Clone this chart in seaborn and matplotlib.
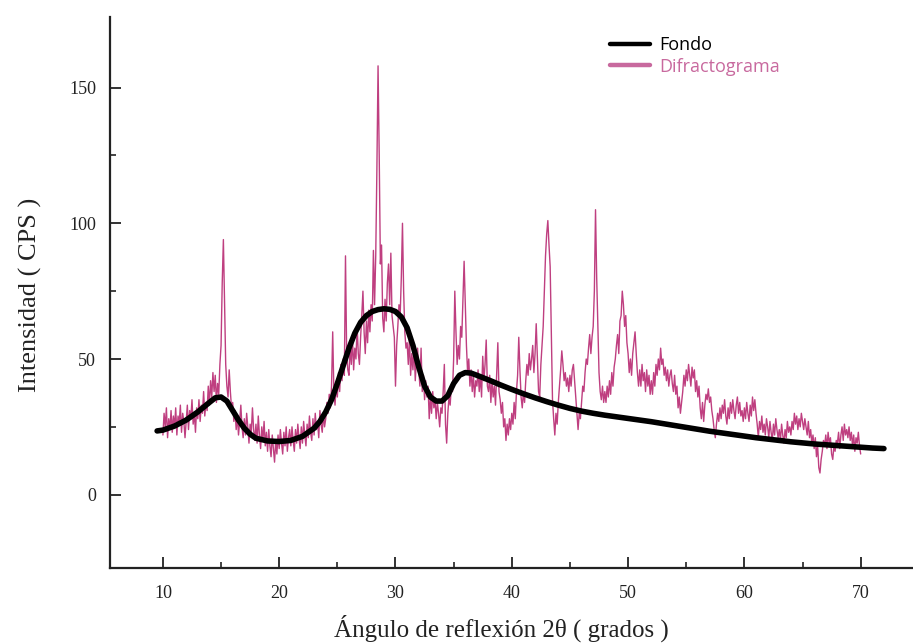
import numpy as np
import pandas as pd
import matplotlib
matplotlib.use("Agg")
import matplotlib.pyplot as plt
from matplotlib.lines import Line2D
from matplotlib.ticker import FixedLocator
import seaborn as sns

# ---------------- data ----------------
angle_start = 10.0
angle_step = 0.1
diffractogram = [
    22, 30, 25, 32, 21, 28, 24, 31, 23, 29,      # 10
    25, 32, 22, 29, 26, 33, 23, 30, 27, 21,      # 11
    27, 33, 24, 31, 28, 35, 26, 30, 23, 32,      # 12
    28, 35, 27, 33, 30, 38, 29, 34, 31, 40,      # 13
    33, 42, 36, 45, 38, 44, 34, 41, 37, 48,      # 14
    55, 78, 94, 72, 48, 40, 36, 46, 38, 32,      # 15
    34, 27, 31, 24, 29, 22, 27, 33, 25, 21,      # 16
    28, 22, 30, 25, 19, 26, 23, 32, 24, 20,      # 17
    26, 19, 29, 22, 17, 25, 20, 27, 18, 23,      # 18
    16, 24, 18, 14, 22, 17, 12, 20, 15, 22,      # 19
    17, 24, 19, 15, 23, 18, 25, 16, 21, 24,      # 20
    18, 25, 20, 16, 24, 19, 26, 21, 17, 25,      # 21
    19, 27, 22, 18, 26, 21, 29, 23, 20, 28,      # 22
    22, 30, 24, 27, 21, 31, 26, 23, 30, 25,      # 23
    28, 34, 30, 37, 32, 40, 60, 38, 33, 40,      # 24
    36, 45, 38, 48, 42, 50, 44, 88, 52, 46,      # 25
    44, 55, 48, 58, 46, 54, 50, 62, 52, 48,      # 26
    58, 66, 75, 60, 52, 64, 56, 68, 60, 70,      # 27
    64, 90, 70, 88, 120, 158, 125, 85, 92, 65,   # 28
    60, 72, 64, 78, 85, 70, 89, 66, 62, 58,      # 29
    40, 55, 62, 70, 66, 80, 100, 75, 60, 54,     # 30
    56, 48, 58, 44, 52, 46, 55, 42, 50, 54,      # 31
    46, 40, 54, 38, 44, 35, 42, 36, 40, 28,      # 32
    36, 30, 38, 32, 35, 28, 34, 30, 25, 32,      # 33
    30, 38, 48, 26, 19, 30, 36, 33, 40, 38,      # 34
    50, 75, 60, 48, 55, 50, 62, 58, 72, 86,      # 35
    70, 55, 45, 50, 40, 46, 38, 44, 36, 42,      # 36
    40, 46, 38, 44, 36, 51, 42, 48, 57, 40,      # 37
    38, 44, 34, 42, 36, 40, 33, 45, 56, 38,      # 38
    35, 30, 34, 25, 28, 20, 26, 22, 28, 24,      # 39
    30, 26, 34, 28, 38, 44, 58, 46, 36, 32,      # 40
    38, 34, 42, 48, 44, 52, 46, 50, 55, 45,      # 41
    52, 63, 50, 38, 36, 48, 55, 62, 75, 88,      # 42
    96, 101, 92, 84, 60, 35, 28, 22, 30, 26,     # 43
    34, 40, 46, 53, 48, 42, 45, 40, 43, 38,      # 44
    44, 40, 46, 48, 42, 36, 30, 24, 30, 28,      # 45
    34, 40, 38, 45, 50, 48, 54, 59, 52, 58,      # 46
    62, 75, 105, 80, 62, 45, 38, 35, 40, 34,     # 47
    38, 34, 40, 36, 42, 37, 45, 40, 47, 50,      # 48
    55, 59, 52, 64, 66, 75, 70, 62, 66, 56,      # 49
    52, 45, 50, 44, 52, 56, 60, 52, 45, 40,      # 50
    46, 40, 48, 42, 45, 38, 46, 40, 44, 37,      # 51
    42, 37, 45, 40, 48, 44, 50, 46, 54, 48,      # 52
    50, 44, 47, 42, 46, 40, 44, 46, 41, 38,      # 53
    44, 37, 40, 32, 36, 30, 34, 38, 44, 40,      # 54
    46, 42, 48, 44, 40, 47, 43, 46, 38, 42,      # 55
    36, 40, 32, 28, 34, 27, 33, 37, 35, 39,      # 56
    34, 36, 31, 28, 24, 21, 26, 30, 27, 32,      # 57
    28, 33, 30, 35, 29, 26, 32, 28, 34, 30,      # 58
    35, 31, 28, 33, 36, 30, 34, 29, 31, 27,      # 59
    32, 28, 34, 30, 27, 33, 29, 36, 31, 35,      # 60
    30, 26, 21, 27, 24, 29, 23, 26, 22, 28,      # 61
    25, 21, 27, 23, 20, 26, 22, 28, 24, 21,      # 62
    24, 20, 26, 22, 19, 24, 21, 27, 23, 25,      # 63
    22, 27, 24, 30, 26, 29, 24, 28, 25, 30,      # 64
    27, 24, 28, 25, 22, 27, 21, 24, 19, 22,      # 65
    17, 21, 14, 18, 10, 8, 13, 16, 20, 18,       # 66
    22, 17, 23, 19, 21, 15, 13, 18, 16, 20,      # 67
    19, 23, 17, 22, 25, 20, 26, 22, 24, 21,      # 68
    25, 20, 23, 18, 22, 16, 21, 19, 23, 18,      # 69
    15,                                          # 70.0
]

background_x = [9.5, 10, 11, 12, 13, 14, 14.5, 15, 15.5, 16, 16.5, 17, 17.5, 18, 19, 20,
                21, 22, 23, 23.5, 24, 24.5, 25, 25.5, 26, 26.5, 27, 27.5, 28, 28.5, 29,
                29.5, 30, 30.5, 31, 31.5, 32, 32.5, 33, 33.5, 34, 34.5, 35, 35.5, 36,
                36.5, 37, 38, 39, 40, 41, 42, 43, 44, 45, 46, 47, 48, 49, 50, 51, 52,
                53, 54, 55, 56, 57, 58, 59, 60, 61, 62, 63, 64, 65, 66, 67, 68, 69, 70,
                71, 72]
background_y = [23.5, 23.8, 25.3, 27.5, 30.5, 34, 35.7, 36, 34.5, 31, 27.5, 24.5, 22.3,
                20.8, 19.8, 19.6, 20, 21.5, 24.5, 27, 30.5, 35, 41, 47.5, 54, 59.5, 63.5,
                66, 67.5, 68.2, 68.5, 68.3, 67.5, 65.5, 61.5, 55, 47, 40, 36, 34.5, 34.5,
                36.5, 41, 44, 45, 44.8, 44, 42.3, 40.5, 38.8, 37.2, 35.7, 34.3, 33, 31.8,
                30.8, 30, 29.3, 28.7, 28.1, 27.5, 26.9, 26.2, 25.5, 24.8, 24.1, 23.4, 22.8,
                22.2, 21.6, 21, 20.5, 20, 19.5, 19.1, 18.7, 18.4, 18.1, 17.8, 17.5, 17.2, 17]

x_major_ticks = [10, 20, 30, 40, 50, 60, 70]
x_minor_ticks = [15, 25, 35, 45, 55, 65]
y_major_ticks = [0, 50, 100, 150]
y_minor_ticks = [25, 75, 125]

series_names = ["Fondo", "Difractograma"]
x_label = "Ángulo de reflexión 2θ ( grados )"
y_label = "Intensidad ( CPS )"

# ---------------- plot ----------------
sns.set_theme(style="ticks")
plt.rcParams['font.family'] = ['Liberation Serif', 'DejaVu Serif']

angles = np.round(angle_start + angle_step * np.arange(len(diffractogram)), 2)
df_diff = pd.DataFrame({"angle": angles, "cps": diffractogram})
df_bg = pd.DataFrame({"angle": background_x, "cps": background_y})

pink = "#bf3f80"
legend_pink = "#c8699e"

fig = plt.figure(figsize=(9.13, 6.44), dpi=100)
ax = fig.add_axes([110 / 913, 1 - 568 / 644, 803 / 913, 551 / 644])

sns.lineplot(data=df_diff, x="angle", y="cps", ax=ax, color=pink, lw=1.0,
             sort=False, estimator=None)
sns.lineplot(data=df_bg, x="angle", y="cps", ax=ax, color="black", lw=4.0,
             sort=False, estimator=None, solid_capstyle="round", solid_joinstyle="round")

ax.set_xlim(5.45, 74.5)
ax.set_ylim(-27, 176)

ax.xaxis.set_major_locator(FixedLocator(x_major_ticks))
ax.xaxis.set_minor_locator(FixedLocator(x_minor_ticks))
ax.yaxis.set_major_locator(FixedLocator(y_major_ticks))
ax.yaxis.set_minor_locator(FixedLocator(y_minor_ticks))
ax.set_xticklabels([str(v) for v in x_major_ticks])
ax.set_yticklabels([str(v) for v in y_major_ticks])

ax.tick_params(axis="both", which="major", direction="in", length=8, width=1.3,
               colors="#222222", labelsize=13)
ax.tick_params(axis="both", which="minor", direction="in", length=4, width=1.2,
               colors="#222222")
ax.tick_params(axis="x", which="major", pad=12)
ax.tick_params(axis="y", which="major", pad=10)

for side in ["top", "right"]:
    ax.spines[side].set_visible(False)
for side in ["left", "bottom"]:
    ax.spines[side].set_linewidth(1.6)
    ax.spines[side].set_color("#222222")

ax.set_xlabel(x_label, fontsize=18, color="#222222")
ax.set_ylabel(y_label, fontsize=19, color="#222222")
ax.xaxis.set_label_coords(0.488, -0.085)
ax.yaxis.set_label_coords(-0.085, 0.495)

handles = [Line2D([], [], color="black", lw=3.2),
           Line2D([], [], color=legend_pink, lw=3.2)]
leg = ax.legend(handles, series_names, loc="upper left", bbox_to_anchor=(0.603, 0.995),
                frameon=False, handlelength=2.2, handletextpad=0.5, labelspacing=0.2,
                prop={"family": "Open Sans", "size": 13})
for txt, col in zip(leg.get_texts(), ["black", legend_pink]):
    txt.set_color(col)

fig.savefig("out.png", dpi=100, facecolor="white")
